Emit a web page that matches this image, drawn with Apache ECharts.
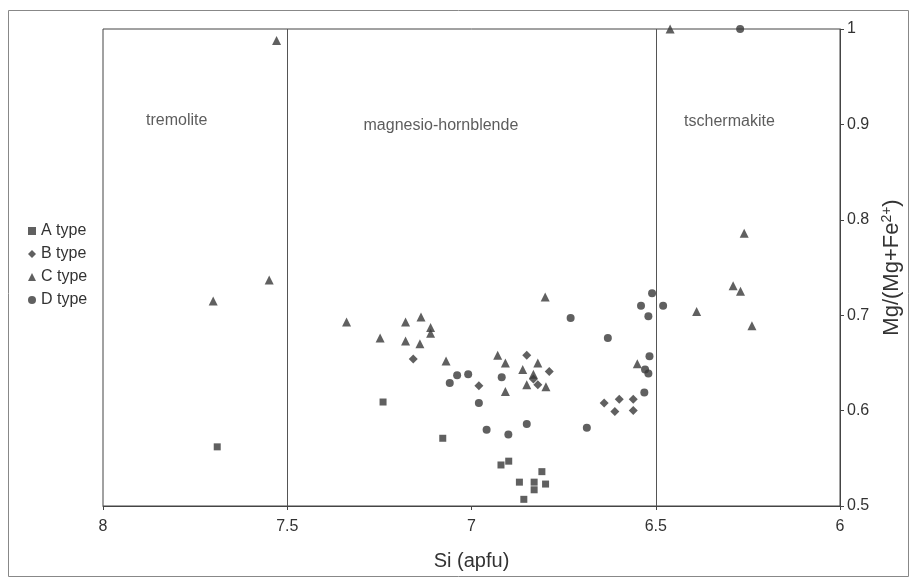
<!DOCTYPE html>
<html>
<head>
<meta charset="utf-8">
<script src="https://cdn.jsdelivr.net/npm/echarts@6/dist/echarts.min.js"></script>
<style>
    html, body { margin: 0; padding: 0; background: #fff; }
    #chart { width: 916px; height: 577px; }
</style>
</head>
<body>
<div id="chart"></div>
<script>
// Si (apfu) vs Mg/(Mg+Fe2+), amphibole classification
var typeA = [
    [7.69, 0.562], [7.24, 0.609], [7.078, 0.571], [6.92, 0.543], [6.899, 0.547],
    [6.87, 0.525], [6.858, 0.507], [6.83, 0.525], [6.83, 0.517], [6.809, 0.536], [6.799, 0.523]
];
var typeB = [
    [7.158, 0.654], [6.98, 0.626], [6.85, 0.658], [6.789, 0.641], [6.82, 0.627], [6.832, 0.633],
    [6.64, 0.608], [6.599, 0.612], [6.561, 0.612], [6.611, 0.599], [6.561, 0.600]
];
var typeC = [
    [7.701, 0.715], [7.549, 0.737], [7.529, 0.988], [6.461, 1.0], [7.339, 0.693], [7.248, 0.676],
    [7.179, 0.693], [7.137, 0.698], [7.111, 0.687], [7.111, 0.681], [7.179, 0.673], [7.14, 0.670],
    [7.069, 0.652], [6.929, 0.658], [6.908, 0.650], [6.908, 0.620], [6.861, 0.643], [6.82, 0.650],
    [6.832, 0.638], [6.85, 0.627], [6.798, 0.625], [6.80, 0.719], [6.55, 0.649], [6.389, 0.704],
    [6.29, 0.731], [6.27, 0.725], [6.26, 0.786], [6.239, 0.689]
];
var typeD = [
    [6.271, 1.0], [7.059, 0.629], [7.039, 0.637], [7.009, 0.638], [6.98, 0.608], [6.959, 0.580],
    [6.90, 0.575], [6.85, 0.586], [6.918, 0.635], [6.731, 0.697], [6.63, 0.676], [6.51, 0.723],
    [6.54, 0.710], [6.52, 0.699], [6.48, 0.710], [6.517, 0.657], [6.529, 0.643], [6.52, 0.639],
    [6.531, 0.619], [6.687, 0.582]
];
var boundaries = [7.5, 6.5];
var fieldNames = ['tremolite', 'magnesio-hornblende', 'tschermakite'];
var fieldSi = [7.80, 7.083, 6.30];
var fieldMg = [0.904, 0.899, 0.903];

var ink = '#333';
var font = '"Liberation Sans", Arial, sans-serif';

var myChart = echarts.init(document.getElementById('chart'), null, { renderer: 'canvas' });

function pointSeries(name, data, symbol, size) {
    return {
        name: name,
        type: 'scatter',
        data: data,
        symbol: symbol,
        symbolSize: size,
        itemStyle: { color: '#383838' },
        z: 3
    };
}

var option = {
    animation: false,
    backgroundColor: '#fff',
    textStyle: { fontFamily: font },
    graphic: [{
        type: 'rect',
        shape: { x: 8.5, y: 10.5, width: 900, height: 566 },
        style: { fill: 'none', stroke: '#888', lineWidth: 1 },
        silent: true
    }],
    legend: {
        orient: 'vertical',
        left: 23,
        top: 218,
        itemWidth: 8,
        itemHeight: 8,
        itemGap: 7,
        textStyle: { fontFamily: font, fontSize: 16, color: ink },
        data: [
            { name: 'A type', icon: 'rect' },
            { name: 'B type', icon: 'diamond' },
            { name: 'C type', icon: 'triangle' },
            { name: 'D type', icon: 'circle' }
        ]
    },
    grid: {
        left: 103,
        right: 76,
        top: 29,
        bottom: 71,
        show: true,
        borderColor: '#444',
        borderWidth: 1
    },
    xAxis: {
        type: 'value',
        inverse: true,
        min: 6,
        max: 8,
        interval: 0.5,
        name: 'Si (apfu)',
        nameLocation: 'middle',
        nameGap: 45,
        nameTextStyle: { fontFamily: font, fontSize: 20, color: ink },
        axisLine: { lineStyle: { color: '#444' } },
        axisTick: { length: 4, lineStyle: { color: '#444' } },
        axisLabel: { fontFamily: font, fontSize: 16, color: ink, margin: 13 },
        splitLine: { show: false }
    },
    yAxis: {
        type: 'value',
        position: 'right',
        min: 0.5,
        max: 1,
        interval: 0.1,
        name: 'Mg/(Mg+Fe{sup|2+})',
        nameLocation: 'middle',
        nameGap: 36,
        nameRotate: 90,
        nameTextStyle: {
            fontFamily: font, fontSize: 22, color: ink,
            rich: { sup: { fontFamily: font, fontSize: 14, color: ink, verticalAlign: 'top', padding: [0, 0, 10, 0] } }
        },
        axisLine: { show: true, lineStyle: { color: '#444' } },
        axisTick: { show: true, length: 4, lineStyle: { color: '#444' } },
        axisLabel: { fontFamily: font, fontSize: 16, color: ink, margin: 7 },
        splitLine: { show: false }
    },
    series: [
        pointSeries('A type', typeA, 'rect', 7),
        pointSeries('B type', typeB, 'diamond', 9),
        pointSeries('C type', typeC, 'triangle', 9),
        pointSeries('D type', typeD, 'circle', 8),
        {
            name: 'fields',
            type: 'scatter',
            symbolSize: 0,
            silent: true,
            data: fieldNames.map(function (n, i) { return { value: [fieldSi[i], fieldMg[i]], name: n }; }),
            label: {
                show: true,
                position: 'inside',
                formatter: '{b}',
                fontFamily: font,
                fontSize: 16,
                color: ink
            },
            markLine: {
                silent: true,
                symbol: 'none',
                label: { show: false },
                lineStyle: { color: '#555', width: 1, type: 'solid' },
                data: boundaries.map(function (b) { return { xAxis: b }; })
            }
        }
    ]
};

myChart.setOption(option);
</script>
</body>
</html>
